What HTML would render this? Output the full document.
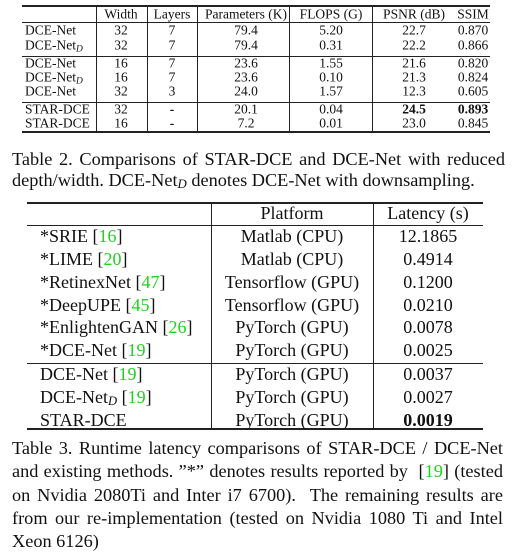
<!DOCTYPE html>
<html><head><meta charset="utf-8"><style>
body{margin:0;width:516px;height:552px;background:#fff;position:relative;overflow:hidden;font-family:"Liberation Serif",serif;color:#111}
.t{position:absolute;white-space:nowrap;transform:translate(-50%,-50%);line-height:1}
.l{position:absolute;white-space:nowrap;transform:translateY(-50%);line-height:1}
.h{position:absolute;background:#222;height:1px}
.v{position:absolute;background:#222;width:1px}
.s1{font-size:13.5px}.s2{font-size:18px}
.g{color:#1ed31e}
.cap{position:absolute;left:12px;font-size:18.3px;line-height:23px;text-align:justify;text-align-last:justify;white-space:nowrap}
sub{font-style:italic;font-size:70%;vertical-align:-2px;line-height:0}
</style></head><body>
<div>
<div class="h" style="left:22px;top:5px;width:468px;height:1.5px"></div>
<div class="h" style="left:22px;top:22px;width:468px"></div>
<div class="h" style="left:22px;top:56px;width:468px"></div>
<div class="h" style="left:22px;top:102px;width:468px"></div>
<div class="h" style="left:22px;top:131px;width:468px;height:1.5px"></div>
<div class="v" style="left:96px;top:5px;height:127px"></div>
<div class="v" style="left:147px;top:5px;height:127px"></div>
<div class="v" style="left:197px;top:5px;height:127px"></div>
<div class="v" style="left:289px;top:5px;height:127px"></div>
<div class="v" style="left:372px;top:5px;height:127px"></div>
<div class="s1">
<span class="t" style="left:121px;top:14px">Width</span>
<span class="t" style="left:172px;top:14px">Layers</span>
<span class="t" style="left:246px;top:14px">Parameters (K)</span>
<span class="t" style="left:331px;top:14px">FLOPS (G)</span>
<span class="t" style="left:414px;top:14px">PSNR (dB)</span>
<span class="t" style="left:473px;top:14px">SSIM</span>

<span class="l" style="left:25px;top:30px">DCE-Net</span>
<span class="t" style="left:121px;top:30px">32</span><span class="t" style="left:172px;top:30px">7</span><span class="t" style="left:246px;top:30px">79.4</span><span class="t" style="left:331px;top:30px">5.20</span><span class="t" style="left:414px;top:30px">22.7</span><span class="t" style="left:473px;top:30px">0.870</span>

<span class="l" style="left:25px;top:45px">DCE-Net<sub>D</sub></span>
<span class="t" style="left:121px;top:45px">32</span><span class="t" style="left:172px;top:45px">7</span><span class="t" style="left:246px;top:45px">79.4</span><span class="t" style="left:331px;top:45px">0.31</span><span class="t" style="left:414px;top:45px">22.2</span><span class="t" style="left:473px;top:45px">0.866</span>

<span class="l" style="left:25px;top:63px">DCE-Net</span>
<span class="t" style="left:121px;top:63px">16</span><span class="t" style="left:172px;top:63px">7</span><span class="t" style="left:246px;top:63px">23.6</span><span class="t" style="left:331px;top:63px">1.55</span><span class="t" style="left:414px;top:63px">21.6</span><span class="t" style="left:473px;top:63px">0.820</span>

<span class="l" style="left:25px;top:77px">DCE-Net<sub>D</sub></span>
<span class="t" style="left:121px;top:77px">16</span><span class="t" style="left:172px;top:77px">7</span><span class="t" style="left:246px;top:77px">23.6</span><span class="t" style="left:331px;top:77px">0.10</span><span class="t" style="left:414px;top:77px">21.3</span><span class="t" style="left:473px;top:77px">0.824</span>

<span class="l" style="left:25px;top:91px">DCE-Net</span>
<span class="t" style="left:121px;top:91px">32</span><span class="t" style="left:172px;top:91px">3</span><span class="t" style="left:246px;top:91px">24.0</span><span class="t" style="left:331px;top:91px">1.57</span><span class="t" style="left:414px;top:91px">12.3</span><span class="t" style="left:473px;top:91px">0.605</span>

<span class="l" style="left:25px;top:109px">STAR-DCE</span>
<span class="t" style="left:121px;top:109px">32</span><span class="t" style="left:172px;top:109px"><b>-</b></span><span class="t" style="left:246px;top:109px">20.1</span><span class="t" style="left:331px;top:109px">0.04</span><span class="t" style="left:414px;top:109px"><b>24.5</b></span><span class="t" style="left:473px;top:109px"><b>0.893</b></span>

<span class="l" style="left:25px;top:123px">STAR-DCE</span>
<span class="t" style="left:121px;top:123px">16</span><span class="t" style="left:172px;top:123px"><b>-</b></span><span class="t" style="left:246px;top:123px">7.2</span><span class="t" style="left:331px;top:123px">0.01</span><span class="t" style="left:414px;top:123px">23.0</span><span class="t" style="left:473px;top:123px">0.845</span>
</div>
</div>

<div class="cap" style="top:148px;width:493px">Table 2. Comparisons of STAR-DCE and DCE-Net with reduced</div>
<div class="cap" style="top:169px;text-align-last:left">depth/width. DCE-Net<sub>D</sub> denotes DCE-Net with downsampling.</div>

<div>
<div class="h" style="left:27px;top:202px;width:456px;height:1.5px"></div>
<div class="h" style="left:27px;top:225px;width:456px"></div>
<div class="h" style="left:27px;top:363px;width:456px"></div>
<div class="h" style="left:27px;top:428px;width:456px;height:1.5px"></div>
<div class="v" style="left:211px;top:202px;height:227px"></div>
<div class="v" style="left:373px;top:202px;height:227px"></div>
<div class="s2">
<span class="t" style="left:292px;top:213px">Platform</span>
<span class="t" style="left:428px;top:213px">Latency (s)</span>

<span class="l" style="left:40px;top:236px">*SRIE [<span class="g">16</span>]</span>
<span class="t" style="left:292px;top:236px">Matlab (CPU)</span><span class="t" style="left:428px;top:236px">12.1865</span>
<span class="l" style="left:40px;top:259px">*LIME [<span class="g">20</span>]</span>
<span class="t" style="left:292px;top:259px">Matlab (CPU)</span><span class="t" style="left:428px;top:259px">0.4914</span>
<span class="l" style="left:40px;top:282px">*RetinexNet [<span class="g">47</span>]</span>
<span class="t" style="left:292px;top:282px">Tensorflow (GPU)</span><span class="t" style="left:428px;top:282px">0.1200</span>
<span class="l" style="left:40px;top:305px">*DeepUPE [<span class="g">45</span>]</span>
<span class="t" style="left:292px;top:305px">Tensorflow (GPU)</span><span class="t" style="left:428px;top:305px">0.0210</span>
<span class="l" style="left:40px;top:327px">*EnlightenGAN [<span class="g">26</span>]</span>
<span class="t" style="left:292px;top:327px">PyTorch (GPU)</span><span class="t" style="left:428px;top:327px">0.0078</span>
<span class="l" style="left:40px;top:350px">*DCE-Net [<span class="g">19</span>]</span>
<span class="t" style="left:292px;top:350px">PyTorch (GPU)</span><span class="t" style="left:428px;top:350px">0.0025</span>
<span class="l" style="left:40px;top:374px">DCE-Net [<span class="g">19</span>]</span>
<span class="t" style="left:292px;top:374px">PyTorch (GPU)</span><span class="t" style="left:428px;top:374px">0.0037</span>
<span class="l" style="left:40px;top:397px">DCE-Net<sub>D</sub> [<span class="g">19</span>]</span>
<span class="t" style="left:292px;top:397px">PyTorch (GPU)</span><span class="t" style="left:428px;top:397px">0.0027</span>
<span class="l" style="left:40px;top:420px">STAR-DCE</span>
<span class="t" style="left:292px;top:420px">PyTorch (GPU)</span><span class="t" style="left:428px;top:420px"><b>0.0019</b></span>
</div>
</div>

<div class="cap" style="top:437px;width:491px">Table 3. Runtime latency comparisons of STAR-DCE / DCE-Net</div>
<div class="cap" style="top:460px;width:491px">and existing methods. ”*” denotes results reported by &nbsp;[<span class="g">19</span>] (tested</div>
<div class="cap" style="top:484px;width:491px">on Nvidia 2080Ti and Inter i7 6700). &nbsp;The remaining results are</div>
<div class="cap" style="top:507px;width:491px">from our re-implementation (tested on Nvidia 1080 Ti and Intel</div>
<div class="cap" style="top:530px;text-align-last:left">Xeon 6126)</div>
</body></html>
